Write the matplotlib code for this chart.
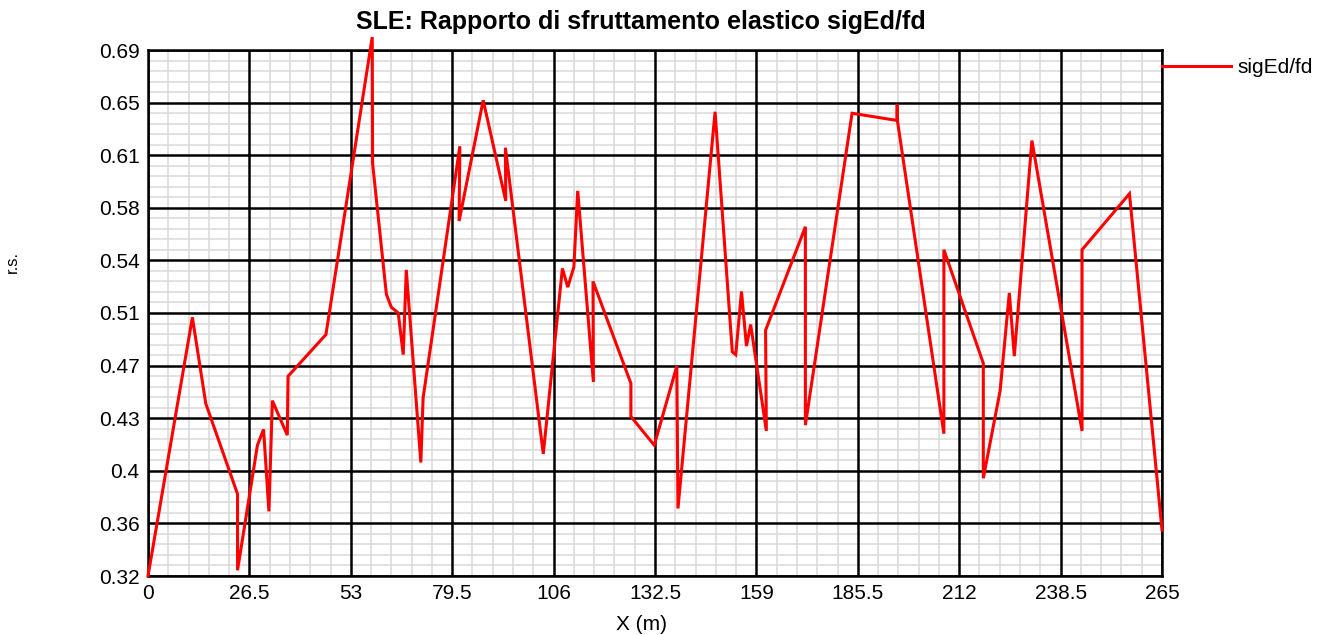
import numpy as np
import matplotlib.pyplot as plt
from matplotlib.ticker import FixedLocator

plt.rcParams['font.family'] = ['Liberation Sans', 'DejaVu Sans']

# progressiva (m) e rapporto sigEd/fd
X = [0, 11.6, 15.1, 23.4, 23.4, 28.6, 30.2, 31.6, 32.5, 36.4,
     36.6, 46.5, 58.6, 58.7, 62.3, 63.6, 65.4, 66.7, 67.5, 71.3,
     71.9, 81.5, 81.3, 87.6, 93.5, 93.4, 103.3, 108.3, 109.7, 111.3,
     112.3, 116.4, 116.3, 126.2, 126.2, 132.3, 138.2, 138.5, 148.2, 152.7,
     153.6, 155.1, 156.4, 157.5, 161.6, 161.4, 171.8, 171.8, 184.0, 195.7,
     195.8, 195.9, 208.0, 208.0, 218.3, 218.3, 222.7, 225.1, 226.4, 231.0,
     244.1, 244.1, 256.5, 265]
RS = [0.322, 0.502, 0.442, 0.379, 0.326, 0.413, 0.424, 0.367, 0.444, 0.420,
      0.461, 0.490, 0.697, 0.609, 0.518, 0.509, 0.505, 0.476, 0.535, 0.401,
      0.446, 0.621, 0.569, 0.653, 0.583, 0.620, 0.407, 0.536, 0.523, 0.537,
      0.590, 0.457, 0.527, 0.456, 0.433, 0.413, 0.468, 0.369, 0.645, 0.478,
      0.476, 0.520, 0.482, 0.497, 0.423, 0.493, 0.565, 0.427, 0.644, 0.639,
      0.650, 0.638, 0.421, 0.549, 0.470, 0.390, 0.451, 0.519, 0.475, 0.625,
      0.423, 0.549, 0.588, 0.354]

x_ticks = [0, 26.5, 53, 79.5, 106, 132.5, 159, 185.5, 212, 238.5, 265]
x_labels = ['0', '26.5', '53', '79.5', '106', '132.5', '159', '185.5', '212', '238.5', '265']
y_min, y_max = 0.322, 0.688
y_labels = ['0.32', '0.36', '0.4', '0.43', '0.47', '0.51', '0.54', '0.58', '0.61', '0.65', '0.69']

fig = plt.figure(figsize=(13.18, 6.35), dpi=100)
ax = fig.add_axes([148 / 1318, 1 - 576 / 635, 1014 / 1318, 526 / 635])

ax.set_xlim(0, 265)
ax.set_ylim(y_min, y_max)

y_ticks = np.linspace(y_min, y_max, 11)

# griglia secondaria: 5 suddivisioni per intervallo, senza le linee principali
x_minor = [a + (b - a) * i / 5 for a, b in zip(x_ticks[:-1], x_ticks[1:]) for i in range(1, 5)]
y_minor = [a + (b - a) * i / 5 for a, b in zip(y_ticks[:-1], y_ticks[1:]) for i in range(1, 5)]
for xm in x_minor:
    ax.axvline(xm, color='#d9d9d9', linewidth=1.1, zorder=1)
for ym in y_minor:
    ax.axhline(ym, color='#d9d9d9', linewidth=1.1, zorder=1)
for xt in x_ticks:
    ax.axvline(xt, color='black', linewidth=1.8, zorder=2)
for yt in y_ticks:
    ax.axhline(yt, color='black', linewidth=1.8, zorder=2)

ax.plot(X, RS, color='red', linewidth=2.2, solid_joinstyle='miter',
        clip_on=False, zorder=5, label='sigEd/fd')

ax.xaxis.set_major_locator(FixedLocator(x_ticks))
ax.set_xticklabels(x_labels)
ax.yaxis.set_major_locator(FixedLocator(y_ticks))
ax.set_yticklabels(y_labels)
ax.tick_params(which='both', length=0, labelsize=15, pad=6)

for s in ax.spines.values():
    s.set_linewidth(1.8)
    s.set_zorder(3)

fig.text(641 / 1318, 1 - 22 / 635, 'SLE: Rapporto di sfruttamento elastico sigEd/fd',
         fontsize=18, fontweight='bold', ha='center', va='center')
fig.text(641 / 1318, 1 - 624 / 635, 'X (m)', fontsize=15, ha='center', va='center')
fig.text(12 / 1318, 1 - 262 / 635, 'r.s.', rotation=90, fontsize=12,
         ha='center', va='center')

ax.legend(loc='upper left', bbox_to_anchor=(1.0, 0.985), frameon=False,
          fontsize=15, handlelength=3.3, handletextpad=0.3,
          borderpad=0, borderaxespad=0)

fig.savefig('out.png', dpi=100)
